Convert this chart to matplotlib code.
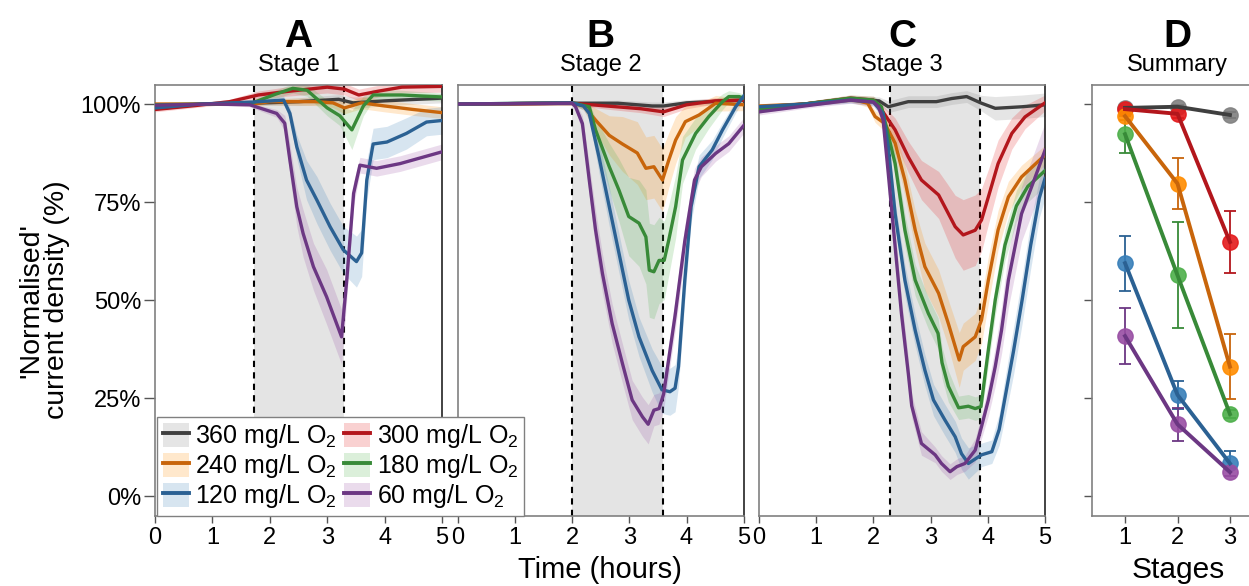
import numpy as np
import matplotlib
matplotlib.use('Agg')
import matplotlib.pyplot as plt
from matplotlib.patches import Patch
from matplotlib.lines import Line2D
from matplotlib.ticker import PercentFormatter

plt.rcParams['font.family'] = ['Liberation Sans', 'DejaVu Sans']
plt.rcParams['mathtext.default'] = 'regular'

# concentrations and colours (line colour, shading/marker colour)
labels = ['360 mg/L O$_2$', '300 mg/L O$_2$', '240 mg/L O$_2$',
          '180 mg/L O$_2$', '120 mg/L O$_2$', '60 mg/L O$_2$']
dark_cols = ['#3f3f3f', '#b3161c', '#c8650b', '#388a38', '#2b6193', '#6c3783']
light_cols = ['#808080', '#e41a1c', '#ff8c00', '#4daf4a', '#377eb8', '#984ea3']

# stage windows (hours)
stage_A = [1.72, 3.30]
stage_B = [2.00, 3.59]
stage_C = [2.29, 3.87]

# (time h, mean %, spread %)
A_360 = [(0, 99.6, 0.5), (1, 100, 0.3), (1.7, 100.2, 0.5), (2.5, 100.6, 1), (3.2, 101.2, 1.2),
         (3.45, 100.3, 1.5), (4, 100.8, 1.2), (5, 101.5, 1.2)]
A_300 = [(0, 98.6, 0.6), (0.7, 99.6, 0.5), (1.3, 100.6, 0.6), (1.8, 102.3, 1), (2.3, 103.2, 1.2),
         (3.0, 104.3, 1.5), (3.3, 103.8, 1.5), (3.55, 102.3, 1.5), (3.9, 103.3, 1.5),
         (4.3, 104.3, 1.5), (5, 104.5, 1.5)]
A_240 = [(0, 100, 0.4), (1, 100, 0.3), (1.7, 100, 0.5), (2.0, 100.6, 0.8), (2.8, 100.6, 1),
         (3.1, 100.3, 1.2), (3.3, 99, 1.5), (3.6, 100.3, 1.5), (4, 99.5, 1.5), (4.5, 98.6, 1.5),
         (5, 97.8, 1.5)]
A_180 = [(0, 99.8, 0.5), (1, 100, 0.3), (1.7, 100.3, 0.6), (2.1, 102.5, 1), (2.4, 104, 1.2),
         (2.65, 103.5, 1.5), (3.0, 99, 2), (3.22, 97, 2.5), (3.43, 93.4, 5), (3.63, 99.5, 2.5),
         (3.8, 102.3, 1.5), (4.3, 102.3, 1.2), (5, 101.8, 1)]
A_120 = [(0, 99, 0.6), (0.8, 100, 0.4), (1.7, 100.5, 0.6), (2.24, 101, 1), (2.35, 97.6, 1.5),
         (2.47, 89.1, 3), (2.64, 80.6, 5), (2.82, 75.5, 6), (3.05, 68.7, 6), (3.28, 62.8, 6),
         (3.51, 59.8, 6.5), (3.6, 62, 6), (3.69, 80.6, 5), (3.8, 89.8, 4), (4.04, 90.3, 4),
         (4.38, 92.5, 4), (4.73, 95.4, 3.5), (5, 95.8, 3.5)]
A_60 = [(0, 99.7, 0.4), (1, 100, 0.3), (1.65, 99.8, 0.5), (2.12, 97.6, 1), (2.26, 95.1, 2),
        (2.35, 85.7, 4), (2.47, 73.8, 5), (2.58, 67, 6), (2.76, 58.5, 6), (2.99, 50.8, 7),
        (3.25, 40.6, 7), (3.34, 55, 5), (3.46, 77.2, 3), (3.57, 84.4, 2), (3.86, 83.6, 2),
        (4.27, 84.8, 2), (5, 87.8, 2)]

B_360 = [(0, 100, 0.3), (2, 100.2, 0.5), (2.8, 100.2, 0.8), (3.4, 99.5, 1), (3.6, 99.5, 1),
         (4.0, 100.3, 0.8), (5, 101, 0.8)]
B_300 = [(0, 100, 0.3), (2, 100.2, 0.5), (2.6, 99.5, 0.8), (3.2, 98.8, 1), (3.6, 98, 1.2),
         (4.0, 99.8, 1), (4.5, 100.8, 0.8), (5, 101, 0.8)]
B_240 = [(0, 100, 0.3), (2.0, 100.2, 0.5), (2.2, 99.5, 1), (2.41, 95.9, 3), (2.65, 92, 5),
         (2.88, 89.8, 7), (3.14, 87.5, 8), (3.29, 83.6, 8), (3.43, 84, 8), (3.58, 80.6, 8),
         (3.69, 85.7, 7), (3.81, 90.8, 6), (3.98, 95.5, 4), (4.22, 97.2, 3), (4.51, 100.2, 2),
         (5, 99.8, 1.5)]
B_180 = [(0, 100, 0.3), (2.0, 100.3, 0.5), (2.3, 99.3, 1), (2.41, 93.4, 3), (2.65, 84, 6),
         (2.82, 78, 8), (2.99, 71.3, 10), (3.17, 69.6, 11), (3.29, 66.1, 12), (3.35, 57.6, 12),
         (3.43, 57.2, 12), (3.52, 60.1, 11), (3.61, 60.1, 10), (3.69, 65.3, 9), (3.81, 73.8, 8),
         (3.93, 85.7, 6), (4.16, 92.5, 4), (4.39, 96.8, 3), (4.63, 100.6, 2), (4.74, 101.9, 1.5),
         (4.92, 101.9, 1), (5, 101.5, 1)]
B_120 = [(0, 100, 0.3), (2.0, 100.3, 0.5), (2.2, 99.5, 1), (2.3, 97.6, 1.5), (2.47, 86.5, 4),
         (2.65, 73.8, 5), (2.82, 61.9, 5), (2.99, 50, 5), (3.17, 40.6, 5), (3.4, 32, 5.5),
         (3.57, 27.1, 6), (3.71, 26.6, 6), (3.8, 27.5, 6), (3.86, 33, 5), (3.97, 55, 5),
         (4.08, 73.8, 4), (4.22, 84, 3), (4.45, 88.3, 2.5), (4.63, 93.4, 2), (4.86, 99.3, 1.5),
         (5, 102, 1)]
B_60 = [(0, 100, 0.3), (2.0, 100.2, 0.5), (2.06, 99.3, 1), (2.18, 95, 2), (2.3, 80.6, 4),
        (2.41, 67.9, 5), (2.53, 56.8, 5), (2.7, 44, 5), (2.88, 33.8, 5), (3.05, 24.5, 5),
        (3.23, 20.2, 5), (3.33, 18.3, 5), (3.43, 21.9, 4), (3.52, 22.3, 4), (3.6, 26, 4),
        (3.8, 46, 4), (3.97, 65, 4), (4.14, 80.6, 3), (4.26, 84, 2.5), (4.51, 87.4, 2),
        (4.74, 89.9, 2), (5, 94.5, 2)]

C_360 = [(0, 99.2, 0.6), (0.8, 100, 0.6), (1.6, 101.3, 0.8), (2.1, 100.8, 1), (2.26, 99.3, 1.5),
         (2.61, 100.6, 1.5), (3.1, 100.6, 1.5), (3.37, 101.4, 1.5), (3.63, 101.9, 1.5),
         (3.89, 100.2, 2), (4.13, 98.9, 3), (4.6, 99.3, 3), (5, 99.8, 3)]
C_300 = [(0, 99, 0.6), (0.8, 100, 0.6), (1.6, 101.5, 0.8), (2.0, 101, 1), (2.14, 98.6, 1.5),
         (2.38, 93.4, 3), (2.61, 86.5, 4), (2.84, 80.6, 5), (3.14, 76.8, 6), (3.28, 72.9, 7),
         (3.43, 68.7, 8), (3.57, 66.6, 9), (3.78, 67.8, 9), (3.89, 70.4, 8), (4.01, 76.3, 7),
         (4.18, 84.8, 6), (4.42, 92.5, 4), (4.65, 96.7, 3), (5, 100.3, 2)]
C_240 = [(0, 99.5, 0.6), (0.8, 100, 0.5), (1.6, 101.3, 0.8), (1.9, 100.2, 1), (2.03, 96.8, 1.5),
         (2.2, 95, 2), (2.38, 90, 3), (2.55, 80.6, 4), (2.73, 67.9, 5), (2.9, 58.5, 6),
         (3.14, 51.7, 6), (3.31, 44, 6), (3.5, 34.7, 7), (3.57, 38.1, 6), (3.78, 40.6, 6),
         (3.89, 44.9, 6), (4.01, 55.1, 6), (4.18, 67.9, 5), (4.36, 76.3, 4), (4.59, 81.4, 3),
         (5, 87, 2.5)]
C_180 = [(0, 98.5, 0.8), (0.8, 100, 0.6), (1.6, 101.5, 0.8), (2.0, 101, 1), (2.14, 99.3, 1.5),
         (2.38, 84.8, 3), (2.55, 67.9, 4), (2.73, 55.1, 4), (2.96, 46.6, 4), (3.13, 41.5, 4),
         (3.2, 34, 4), (3.31, 28, 4), (3.49, 22.5, 3), (3.66, 22.9, 3), (3.78, 22.3, 3),
         (3.88, 22.8, 3), (4.01, 37.3, 4), (4.13, 50, 4), (4.3, 64, 4), (4.5, 74, 4),
         (4.7, 79, 4), (5, 83, 4)]
C_120 = [(0, 99.3, 0.6), (0.8, 100, 0.5), (1.6, 101, 0.8), (2.0, 100.5, 1), (2.17, 97.6, 1.5),
         (2.26, 89, 2), (2.38, 72, 3), (2.55, 55.1, 4), (2.73, 42.3, 4), (2.9, 32.1, 4),
         (3.05, 24.5, 4), (3.25, 19.4, 4), (3.43, 15.1, 4), (3.54, 10.8, 4), (3.66, 8.3, 4),
         (3.89, 10.5, 3), (4.07, 11.3, 3), (4.2, 17, 4), (4.3, 25, 5), (4.45, 37, 6),
         (4.6, 50, 6), (4.75, 64, 6), (4.9, 76, 5), (5, 81, 5)]
C_60 = [(0, 98, 0.8), (0.8, 99.5, 0.6), (1.6, 101, 0.8), (2.0, 100.5, 1), (2.09, 99.3, 1.5),
        (2.17, 95.9, 2), (2.26, 82.3, 3), (2.38, 63.6, 4), (2.49, 46.6, 4), (2.61, 31.3, 4),
        (2.67, 23, 3), (2.84, 13.4, 3), (3.08, 10.5, 2), (3.19, 8.3, 2), (3.34, 6.2, 2),
        (3.46, 7.5, 2), (3.6, 8.3, 2), (3.78, 11.7, 3), (3.89, 17.7, 3), (4.01, 24.5, 4),
        (4.13, 33, 5), (4.24, 42.3, 6), (4.36, 55.1, 7), (4.59, 72, 7), (4.83, 81.4, 7),
        (5, 88.2, 7)]

# summary (panel D)
stages = [1, 2, 3]
D_mean = {
    '360': [99.0, 99.3, 97.2],
    '300': [98.7, 97.5, 64.8],
    '240': [96.9, 79.7, 33.0],
    '180': [92.3, 56.3, 20.9],
    '120': [59.4, 25.8, 8.3],
    '60': [40.8, 18.3, 6.1],
}
D_err = {
    '360': [0.5, 0.5, 0.8],
    '300': [0.8, 1.0, 7.9],
    '240': [1.0, 6.4, 8.3],
    '180': [4.7, 13.5, 1.0],
    '120': [7.0, 3.6, 3.2],
    '60': [7.2, 4.2, 1.0],
}

fig = plt.figure(figsize=(12.49, 5.86), dpi=100)
bot, h = 1 - 516 / 586, 431 / 586
axA = fig.add_axes([155 / 1249, bot, 287 / 1249, h])
axB = fig.add_axes([457.7 / 1249, bot, 286 / 1249, h])
axC = fig.add_axes([759 / 1249, bot, 286 / 1249, h])
axD = fig.add_axes([1092 / 1249, bot, 171 / 1249, h])

ylim = (-5.1, 104.85)


def style_spines(ax):
    for side in ['left', 'top', 'bottom']:
        ax.spines[side].set_color('#808080')
        ax.spines[side].set_linewidth(1.2)
    ax.spines['right'].set_color('#222222')
    ax.spines['right'].set_linewidth(1.2)


def add_titles(ax, letter, title):
    ax.text(0.5, 1 + 38 / 431, letter, transform=ax.transAxes, ha='center',
            va='baseline', fontsize=28, fontweight='bold')
    ax.text(0.5, 1 + 14 / 431, title, transform=ax.transAxes, ha='center',
            va='baseline', fontsize=17)


def draw_panel(ax, curves, stage, letter, title):
    ax.axvspan(stage[0], stage[1], color='#e4e4e4', lw=0, zorder=0)
    for x in stage:
        ax.axvline(x, color='black', ls=(0, (3, 2.5)), lw=1.5, zorder=1.5)
    for data, dc, lc in zip(curves, dark_cols, light_cols):
        arr = np.array(data)
        t, m, s = arr[:, 0], arr[:, 1], arr[:, 2]
        ax.fill_between(t, m - s, m + s, color=lc, alpha=0.2, lw=0, zorder=2)
        ax.plot(t, m, color=dc, lw=2.4, zorder=3, solid_joinstyle='round')
    ax.set_xlim(0, 5)
    ax.set_ylim(*ylim)
    ax.set_xticks([0, 1, 2, 3, 4, 5])
    ax.tick_params(axis='x', labelsize=17, length=5, width=1, color='#555555', pad=3)
    style_spines(ax)
    add_titles(ax, letter, title)


draw_panel(axA, [A_360, A_300, A_240, A_180, A_120, A_60], stage_A, 'A', 'Stage 1')
draw_panel(axB, [B_360, B_300, B_240, B_180, B_120, B_60], stage_B, 'B', 'Stage 2')
draw_panel(axC, [C_360, C_300, C_240, C_180, C_120, C_60], stage_C, 'C', 'Stage 3')

axA.set_yticks([0, 25, 50, 75, 100])
axA.yaxis.set_major_formatter(PercentFormatter(100, decimals=0))
axA.tick_params(axis='y', labelsize=17, length=8, width=1, color='#555555', pad=2)
for ax in (axB, axC):
    ax.set_yticks([])

# panel D
for key, dc, lc in zip(D_mean, dark_cols, light_cols):
    axD.errorbar(stages, D_mean[key], yerr=D_err[key], fmt='none', ecolor=dc,
                 elinewidth=1.3, capsize=4, capthick=1.3, zorder=2)
for key, dc, lc in zip(D_mean, dark_cols, light_cols):
    axD.plot(stages, D_mean[key], 'o', ms=11, color=lc, mec=lc, alpha=0.9, zorder=3)
for key, dc, lc in zip(D_mean, dark_cols, light_cols):
    axD.plot(stages, D_mean[key], color=dc, lw=2.8, zorder=4)
axD.set_xlim(0.37, 3.63)
axD.set_ylim(*ylim)
axD.set_xticks(stages)
axD.set_yticks([0, 25, 50, 75, 100])
axD.set_yticklabels([])
axD.tick_params(axis='x', labelsize=17, length=5, width=1, color='#555555', pad=3)
axD.tick_params(axis='y', length=6, width=1, color='#555555')
style_spines(axD)
add_titles(axD, 'D', 'Summary')

# axis labels
fig.text(44 / 1249, 1 - 300 / 586, "'Normalised'\ncurrent density (%)", rotation=90,
         ha='center', va='center', fontsize=20.5, multialignment='center', linespacing=1.0)
fig.text(600 / 1249, 1 - 578 / 586, 'Time (hours)', ha='center', va='baseline', fontsize=21)
fig.text(1178 / 1249, 1 - 578 / 586, 'Stages', ha='center', va='baseline', fontsize=21.5)

# legend (column-major order for 2 columns)
handles = [(Patch(facecolor=lc, alpha=0.2, lw=0), Line2D([], [], color=dc, lw=2.8))
           for dc, lc in zip(dark_cols, light_cols)]
order = [0, 2, 4, 1, 3, 5]
leg = fig.legend([handles[i] for i in order], [labels[i] for i in order],
                 loc='lower left', bbox_to_anchor=(157 / 1249, bot), borderaxespad=0,
                 ncol=2, fontsize=18, frameon=True, fancybox=False, framealpha=1,
                 edgecolor='#808080', handlelength=1.05, handleheight=1.05,
                 handletextpad=0.25, columnspacing=0.3, labelspacing=0.08, borderpad=0.22)
leg.get_frame().set_linewidth(1.0)

plt.savefig('out.png', dpi=100)
